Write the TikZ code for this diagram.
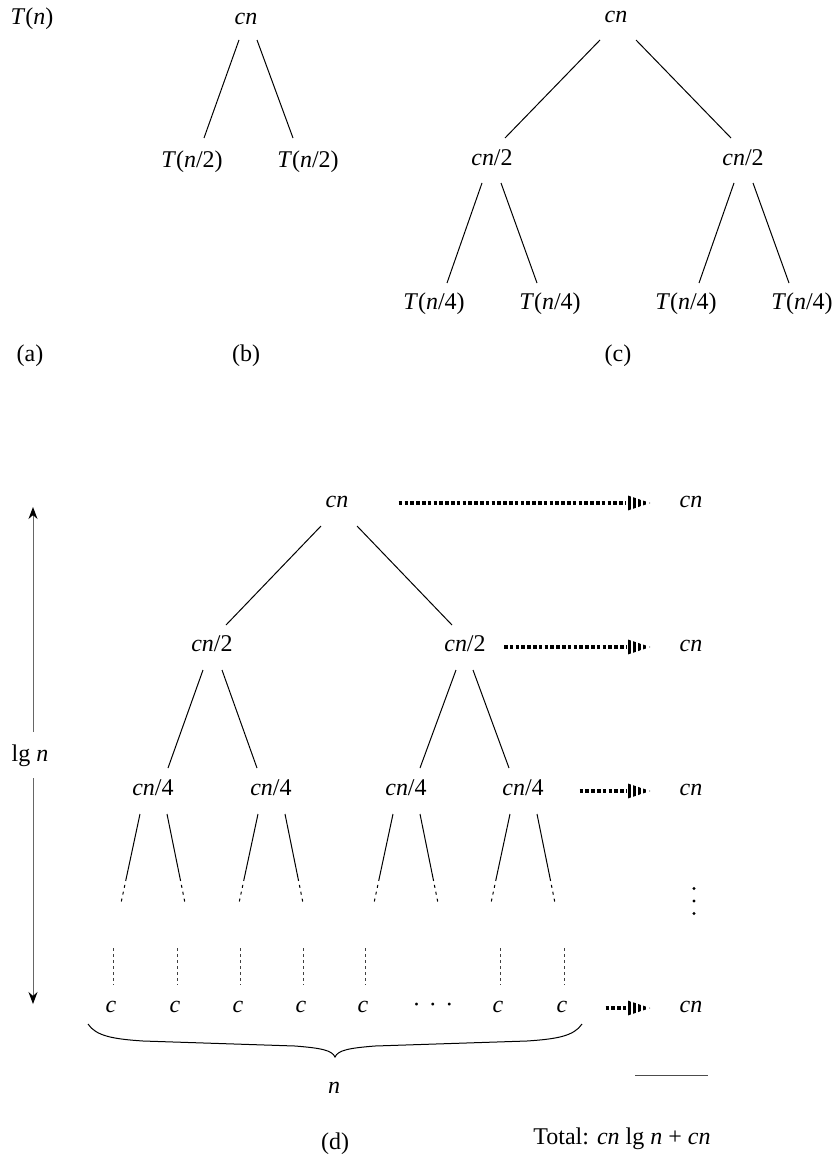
\documentclass[tikz,border=0pt]{standalone}
\usepackage{fontspec}
\setmainfont{Liberation Serif}
\usetikzlibrary{arrows.meta,decorations.pathreplacing,patterns.meta,calc}
\newcommand\mi[1]{\textit{#1}}
\begin{document}
\begin{tikzpicture}[x=0.5pt,y=-0.5pt,
  every node/.style={inner sep=0pt, anchor=mid, font=\fontsize{12pt}{14pt}\selectfont},
  edge/.style={line width=0.5pt},
  tail/.style={line width=0.5pt, dash pattern=on 1.5pt off 2pt},
  vdash/.style={line width=0.45pt, black!75, dash pattern=on 1.6pt off 1.4pt},
  dotline/.style={line width=2.4pt, dash pattern=on 1.8pt off 1.1pt},
  garrow/.style={line width=0.5pt, black!60, -{Stealth[length=6pt,width=4.5pt,black]}},
  dothead/.pic={\fill[pattern={Lines[angle=90,distance=2.6pt,line width=1.5pt]}] (-53,-8) -- (-29,0) -- (-53,8) -- cycle;}
]
\useasboundingbox (0,0) rectangle (835,1161);

% (a)
\node (Tn) at (32,20) {\mi{T}(\mi{n})};
\node (la) at (30,357) {(a)};

% (b)
\node (b0) at (246,20) {\mi{cn}};
\node (b1) at (192,163) {\mi{T}(\mi{n}/2)};
\node (b2) at (308,163) {\mi{T}(\mi{n}/2)};
\node (lb) at (246,357) {(b)};
\draw[edge] ([shift={(-7,20)}]b0.mid) -- ([shift={(12,-25)}]b1.mid);
\draw[edge] ([shift={(11,20)}]b0.mid) -- ([shift={(-15,-25)}]b2.mid);

% (c)
\node (c0) at (616,18) {\mi{cn}};
\node (c1) at (492,161) {\mi{cn}/2};
\node (c2) at (743,161) {\mi{cn}/2};
\node (c11) at (434,305) {\mi{T}(\mi{n}/4)};
\node (c12) at (550,305) {\mi{T}(\mi{n}/4)};
\node (c21) at (686,305) {\mi{T}(\mi{n}/4)};
\node (c22) at (802,305) {\mi{T}(\mi{n}/4)};
\node (lc) at (618,357) {(c)};
\draw[edge] ([shift={(-16,22)}]c0.mid) -- ([shift={(13,-23)}]c1.mid);
\draw[edge] ([shift={(20,22)}]c0.mid) -- ([shift={(-12,-23)}]c2.mid);
\draw[edge] ([shift={(-10,22)}]c1.mid) -- ([shift={(13,-22)}]c11.mid);
\draw[edge] ([shift={(9,22)}]c1.mid) -- ([shift={(-13,-22)}]c12.mid);
\draw[edge] ([shift={(-9,22)}]c2.mid) -- ([shift={(13,-22)}]c21.mid);
\draw[edge] ([shift={(10,22)}]c2.mid) -- ([shift={(-13,-22)}]c22.mid);

% (d) tree
\node (d0) at (337,503) {\mi{cn}};
\node (d1) at (212,647) {\mi{cn}/2};
\node (d2) at (465,647) {\mi{cn}/2};
\node (d11) at (153,791) {\mi{cn}/4};
\node (d12) at (271,791) {\mi{cn}/4};
\node (d21) at (406,791) {\mi{cn}/4};
\node (d22) at (523,791) {\mi{cn}/4};
\draw[edge] ([shift={(-16,23)}]d0.mid) -- ([shift={(14,-22)}]d1.mid);
\draw[edge] ([shift={(20,23)}]d0.mid) -- ([shift={(-13,-22)}]d2.mid);
\draw[edge] ([shift={(-9,23)}]d1.mid) -- ([shift={(15,-23)}]d11.mid);
\draw[edge] ([shift={(10,23)}]d1.mid) -- ([shift={(-14,-23)}]d12.mid);
\draw[edge] ([shift={(-9,23)}]d2.mid) -- ([shift={(14,-23)}]d21.mid);
\draw[edge] ([shift={(8,23)}]d2.mid) -- ([shift={(-14,-23)}]d22.mid);

\foreach \n in {d11,d12,d21,d22}{
  \coordinate (\n-la) at ([shift={(-13,23)}]\n.mid);
  \coordinate (\n-lb) at ([shift={(-26.7,87)}]\n.mid);
  \coordinate (\n-lc) at ([shift={(-32,112)}]\n.mid);
  \coordinate (\n-ra) at ([shift={(14,23)}]\n.mid);
  \coordinate (\n-rb) at ([shift={(27,87)}]\n.mid);
  \coordinate (\n-rc) at ([shift={(32,112)}]\n.mid);
  \draw[edge] (\n-la) -- (\n-lb);
  \draw[tail] (\n-lb) -- (\n-lc);
  \draw[edge] (\n-ra) -- (\n-rb);
  \draw[tail] (\n-rb) -- (\n-rc);
}

% leaves
\foreach \i/\x in {1/111,2/175,3/238,4/301,5/363,7/498,8/562}{
  \node (l\i) at (\x,1008) {\mi{c}};
  \draw[vdash] ([shift={(2,-60)}]l\i.mid) -- ([shift={(2,-23)}]l\i.mid);
}
\node (l6) at (433,1008) {\char"00B7\hspace{4.2pt}\char"00B7\hspace{4.2pt}\char"00B7};

% brace
\coordinate (bl) at ([shift={(-23,16)}]l1.mid);
\coordinate (br) at ([shift={(20,16)}]l8.mid);
\coordinate (bt) at (335,1057);
\draw[line width=0.5pt]
  (bl) .. controls ([shift={(8,12)}]bl) and ([shift={(25,15)}]bl) .. ([shift={(55,17)}]bl)
  -- ([shift={(-40,-11)}]bt) .. controls ([shift={(-15,-9)}]bt) and ([shift={(-3,-7)}]bt) .. (bt)
  .. controls ([shift={(3,-7)}]bt) and ([shift={(15,-9)}]bt) .. ([shift={(40,-11)}]bt)
  -- ([shift={(-55,17)}]br) .. controls ([shift={(-25,15)}]br) and ([shift={(-8,12)}]br) .. (br);
\node (bn) at (334,1089) {\mi{n}};
\node (ld) at (335,1145) {(d)};

% right column
\node (r1) at (691,503) {\mi{cn}};
\node (r2) at (691,647) {\mi{cn}};
\node (r3) at (691,791) {\mi{cn}};
\node (r4) at (691,1008) {\mi{cn}};
\coordinate (vd) at (694,901);
\foreach \dy in {-12.5,0,12.5} \fill ([shift={(0,\dy)}]vd) circle (1.7);

\draw[dotline, shorten <=25pt, shorten >=26.5pt] (d0.mid east) -- (r1.mid west);
\draw[dotline, shorten <=9pt, shorten >=26.5pt] (d2.mid east) -- (r2.mid west);
\draw[dotline, shorten <=17.75pt, shorten >=26.5pt] (d22.mid east) -- (r3.mid west);
\draw[dotline, shorten <=18.9pt, shorten >=26.5pt] (l8.mid east) -- (r4.mid west);
\pic at (r1.mid west) {dothead};
\pic at (r2.mid west) {dothead};
\pic at (r3.mid west) {dothead};
\pic at (r4.mid west) {dothead};

\draw[line width=0.5pt, black!70] ([shift={(-56,67)}]r4.mid) -- ([shift={(17,67)}]r4.mid);
\node[anchor=mid west] (tot) at (533,1140) {Total: \mi{cn} lg \mi{n} + \mi{cn}};

% lg n arrow
\node (lg) at (30,757) {lg \mi{n}};
\coordinate (atop) at (33,507);
\coordinate (abot) at (33,1004);
\draw[garrow] ([shift={(3,-25)}]lg.mid) -- (atop);
\draw[garrow] ([shift={(3,21)}]lg.mid) -- (abot);
\end{tikzpicture}
\end{document}
